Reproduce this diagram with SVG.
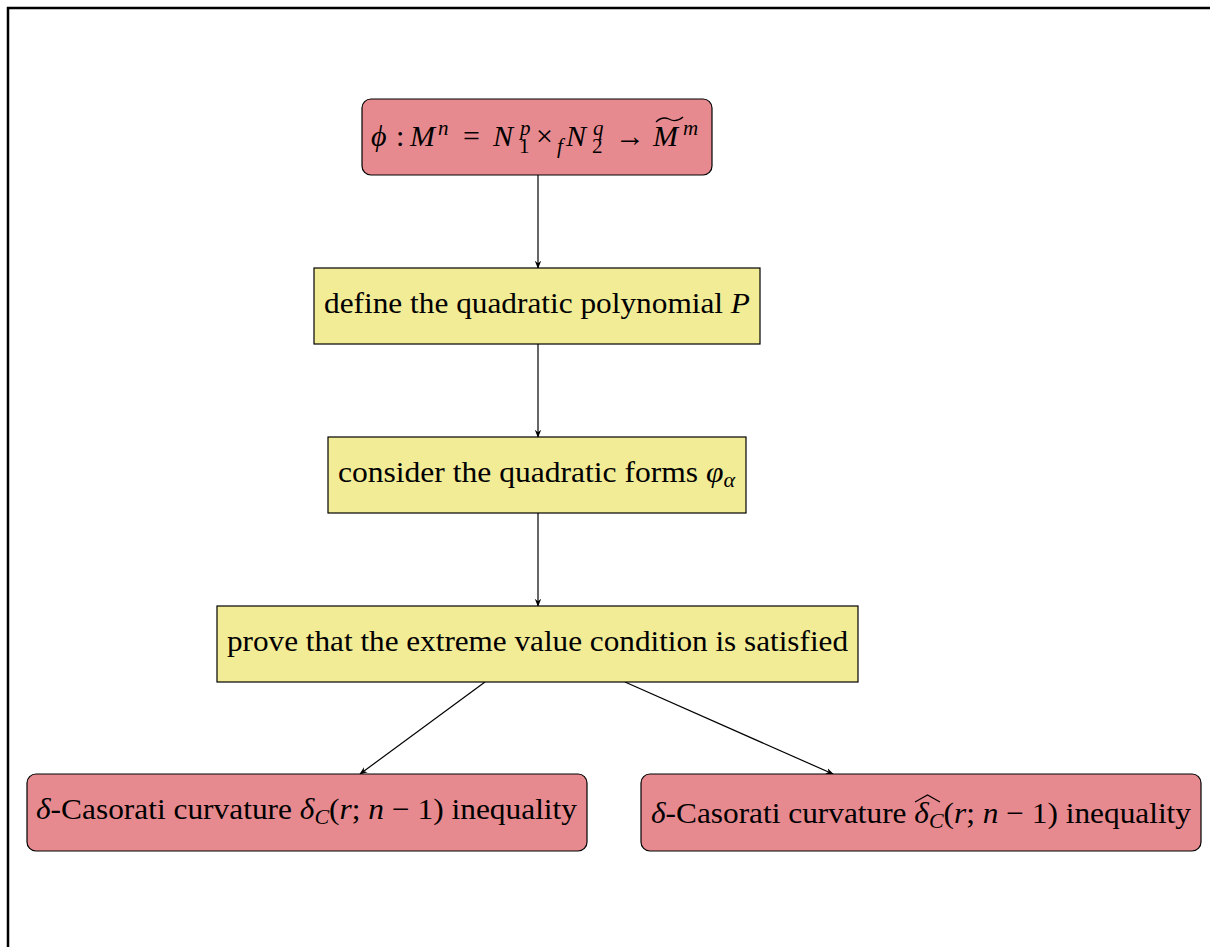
<svg xmlns="http://www.w3.org/2000/svg" width="1210" height="947" viewBox="0 0 1210 947">
<style>
.red{fill:#e78a8f;stroke:#000;stroke-width:1.2}
.yel{fill:#f3ec97;stroke:#000;stroke-width:1.2}
text{font-family:"Liberation Serif","DejaVu Serif",serif;font-size:30px;fill:#000}
.i{font-style:italic}
.s{font-size:21px}
.e{stroke:#000;stroke-width:1.2;fill:none;marker-end:url(#ah)}
</style>
<defs>
<marker id="ah" viewBox="0 0 10 10" refX="9" refY="5" markerWidth="8" markerHeight="8" orient="auto" markerUnits="userSpaceOnUse">
<path d="M0,1 L10,5 L0,9 L3,5 Z" fill="#000"/>
</marker>
</defs>
<rect x="0" y="0" width="1210" height="947" fill="#fff"/>
<path d="M8,947 V8 H1210" fill="none" stroke="#000" stroke-width="2.5"/>
<g id="edges">
<line class="e" x1="538" y1="175" x2="538" y2="268"/>
<line class="e" x1="538" y1="344" x2="538" y2="437"/>
<line class="e" x1="538" y1="513" x2="538" y2="606"/>
<line class="e" x1="485" y1="682" x2="360" y2="774"/>
<line class="e" x1="625" y1="682" x2="833" y2="774"/>
</g>
<g id="n1">
<rect class="red" x="362" y="99" width="350" height="76" rx="9"/>
<text y="146"><tspan class="i" x="371">ϕ</tspan><tspan x="396">:</tspan><tspan class="i" x="410">M</tspan><tspan class="i s" x="438" y="135">n</tspan><tspan x="463" y="146">=</tspan><tspan class="i" x="493">N</tspan><tspan class="i s" x="520" y="135">p</tspan><tspan class="s" x="519" y="153">1</tspan><tspan x="536" y="146">×</tspan><tspan class="i s" x="557" y="153">f</tspan><tspan class="i" x="566" y="146">N</tspan><tspan class="i s" x="593" y="135">q</tspan><tspan class="s" x="592" y="153">2</tspan><tspan x="615" y="146">→</tspan><tspan class="i" x="653">M</tspan><tspan class="i s" x="683" y="135">m</tspan></text>
<path d="M656,122 Q662,116 669,119 Q676,123 683,117" fill="none" stroke="#000" stroke-width="1.3"/>
</g>
<g id="n2">
<rect class="yel" x="314" y="268" width="446" height="76"/>
<text x="324" y="313" textLength="426" lengthAdjust="spacingAndGlyphs">define the quadratic polynomial <tspan class="i">P</tspan></text>
</g>
<g id="n3">
<rect class="yel" x="328" y="437" width="418" height="76"/>
<text x="338" y="482" textLength="397" lengthAdjust="spacingAndGlyphs">consider the quadratic forms <tspan class="i">φ</tspan><tspan class="i s" dy="5">α</tspan></text>
</g>
<g id="n4">
<rect class="yel" x="217" y="606" width="641" height="76"/>
<text x="227" y="651" textLength="621" lengthAdjust="spacingAndGlyphs">prove that the extreme value condition is satisfied</text>
</g>
<g id="n5">
<rect class="red" x="27" y="774" width="560" height="77" rx="9"/>
<text x="36" y="819" textLength="541" lengthAdjust="spacingAndGlyphs"><tspan class="i">δ</tspan>-Casorati curvature <tspan class="i">δ</tspan><tspan class="i s" dy="5">C</tspan><tspan dy="-5">(</tspan><tspan class="i">r</tspan>; <tspan class="i">n</tspan> − 1) inequality</text>
</g>
<g id="n6">
<rect class="red" x="641" y="774" width="560" height="77" rx="9"/>
<text x="651" y="823" textLength="540" lengthAdjust="spacingAndGlyphs"><tspan class="i">δ</tspan>-Casorati curvature <tspan class="i">δ</tspan><tspan class="i s" dy="5">C</tspan><tspan dy="-5">(</tspan><tspan class="i">r</tspan>; <tspan class="i">n</tspan> − 1) inequality</text>
<path d="M915,802 L927.5,795 L940,802" fill="none" stroke="#000" stroke-width="1.2"/>
</g>
</svg>
